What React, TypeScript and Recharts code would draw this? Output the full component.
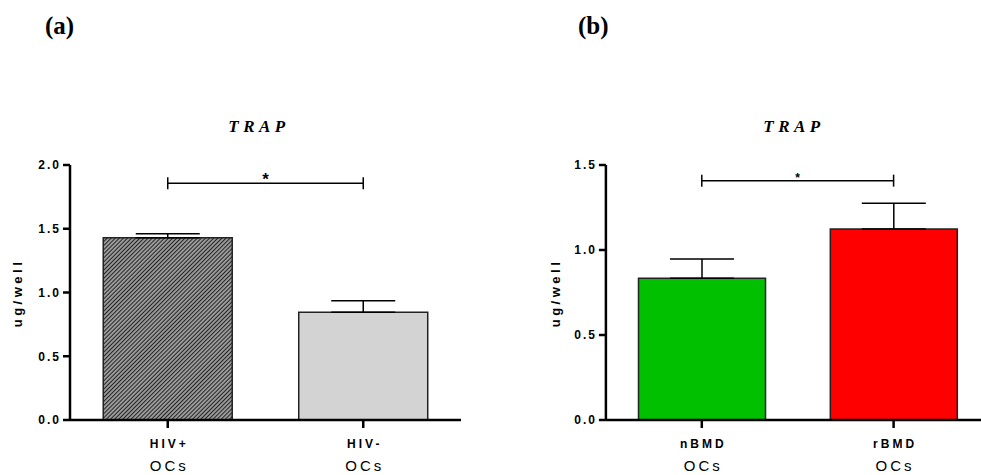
import { BarChart, Bar, XAxis, YAxis, Cell, ErrorBar, ReferenceLine } from "recharts";

// panel (a): HIV status
const leftGroups = ["HIV+", "HIV-"];
const leftMeans = [1.43, 0.845];
const leftSem = [0.03, 0.09];
const leftFills = ["url(#hatch)", "#d3d3d3"];
const leftTicks = [0, 0.5, 1, 1.5, 2];
const leftSigY = 1.857;

// panel (b): bone mineral density
const rightGroups = ["nBMD", "rBMD"];
const rightMeans = [0.834, 1.124];
const rightSem = [0.113, 0.151];
const rightFills = ["#00c000", "#ff0000"];
const rightTicks = [0, 0.5, 1, 1.5];
const rightSigY = 1.408;

const SANS = "'Liberation Sans', Arial, sans-serif";
const SERIF = "'Liberation Serif', 'Times New Roman', serif";

const GroupTick = (props: any) => {
   const { x, y, payload } = props;
   return (
      <g>
         <text x={x + 1.5} y={y + 18} textAnchor="middle" fontSize={12} fontWeight="bold" letterSpacing={3} fill="#000" fontFamily={SANS}>
            {payload.value}
         </text>
         <text x={x + 1.5} y={y + 41} textAnchor="middle" fontSize={15} letterSpacing={3} fill="#000" fontFamily={SANS}>
            OCs
         </text>
      </g>
   );
};

const makeBracket = (starSize: number) => (props: any) => {
   const { x1, y1, x2, y2 } = props;
   return (
      <g>
         <line x1={x1} y1={y1} x2={x2} y2={y2} stroke="#000" strokeWidth={1.5} />
         <line x1={x1} y1={y1 - 6} x2={x1} y2={y1 + 6} stroke="#000" strokeWidth={1.5} />
         <line x1={x2} y1={y2 - 6} x2={x2} y2={y2 + 6} stroke="#000" strokeWidth={1.5} />
         <text x={(x1 + x2) / 2} y={y1 + starSize * 0.1} textAnchor="middle" fontSize={starSize} fontWeight="bold" fill="#000" fontFamily={SANS}>
            *
         </text>
      </g>
   );
};

type PanelProps = {
   groups: string[];
   means: number[];
   sem: number[];
   fills: string[];
   ticks: number[];
   sigY: number;
   starSize: number;
   width: number;
   margin: { top: number; right: number; bottom: number; left: number };
};

function Panel({ groups, means, sem, fills, ticks, sigY, starSize, width, margin }: PanelProps) {
   const data = groups.map((g, i) => ({ group: g, mean: means[i], err: [0, sem[i]] }));
   return (
      <BarChart width={width} height={475} data={data} margin={margin} barCategoryGap="17%">
         <defs>
            <pattern id="hatch" patternUnits="userSpaceOnUse" width={2.9} height={2.9} patternTransform="rotate(45)">
               <rect width={2.9} height={2.9} fill="#999" />
               <line x1={0} y1={0} x2={0} y2={2.9} stroke="#000" strokeWidth={1.5} />
            </pattern>
         </defs>
         <XAxis
            dataKey="group"
            height={55}
            tick={<GroupTick />}
            tickSize={8}
            tickMargin={2}
            tickLine={{ stroke: "#000", strokeWidth: 2.5 }}
            axisLine={{ stroke: "#000", strokeWidth: 2.5 }}
            interval={0}
         />
         <YAxis
            width={40}
            domain={[0, ticks[ticks.length - 1]]}
            ticks={ticks}
            tickFormatter={(v: number) => v.toFixed(1)}
            tick={{ fontSize: 12, fontWeight: "bold", fill: "#000", fontFamily: SANS, letterSpacing: 2 }}
            tickSize={7}
            tickMargin={2}
            tickLine={{ stroke: "#000", strokeWidth: 2.5 }}
            axisLine={{ stroke: "#000", strokeWidth: 2.5 }}
         />
         <Bar dataKey="mean" stroke="#222" strokeWidth={1.5} isAnimationActive={false}>
            {data.map((d, i) => (
               <Cell key={d.group} fill={fills[i]} />
            ))}
            <ErrorBar dataKey="err" direction="y" width={32} stroke="#000" strokeWidth={1.5} isAnimationActive={false} />
         </Bar>
         <ReferenceLine
            segment={[
               { x: groups[0], y: sigY },
               { x: groups[1], y: sigY },
            ]}
            shape={makeBracket(starSize)}
         />
      </BarChart>
   );
}

const textBase = { position: "absolute" as const, color: "#000", whiteSpace: "nowrap" as const };

export default function App() {
   return (
      <div style={{ position: "fixed", left: 0, top: 0, width: 981, height: 475, overflow: "hidden", background: "#fff", fontFamily: SANS }}>
         {/* panel labels */}
         <div style={{ ...textBase, left: 45, top: 11, fontFamily: SERIF, fontWeight: "bold", fontSize: 25, lineHeight: "30px" }}>(a)</div>
         <div style={{ ...textBase, left: 578, top: 11, fontFamily: SERIF, fontWeight: "bold", fontSize: 25, lineHeight: "30px" }}>(b)</div>

         {/* titles */}
         <div style={{ ...textBase, left: 259, top: 117, transform: "translateX(-50%)", fontFamily: SERIF, fontWeight: "bold", fontStyle: "italic", fontSize: 17, letterSpacing: 4.5, lineHeight: "20px" }}>TRAP</div>
         <div style={{ ...textBase, left: 794, top: 117, transform: "translateX(-50%)", fontFamily: SERIF, fontWeight: "bold", fontStyle: "italic", fontSize: 17, letterSpacing: 4.5, lineHeight: "20px" }}>TRAP</div>

         {/* y axis titles */}
         <div style={{ ...textBase, left: 17, top: 293, transform: "translate(-50%, -50%) rotate(-90deg)", fontWeight: "bold", fontSize: 13, letterSpacing: 3.5 }}>ug/well</div>
         <div style={{ ...textBase, left: 555, top: 293, transform: "translate(-50%, -50%) rotate(-90deg)", fontWeight: "bold", fontSize: 13, letterSpacing: 3.5 }}>ug/well</div>

         <div style={{ position: "absolute", left: 0, top: 0 }}>
            <Panel
               groups={leftGroups}
               means={leftMeans}
               sem={leftSem}
               fills={leftFills}
               ticks={leftTicks}
               sigY={leftSigY}
               starSize={17}
               width={500}
               margin={{ top: 165, right: 39, bottom: 0, left: 30 }}
            />
         </div>
         <div style={{ position: "absolute", left: 520, top: 0 }}>
            <Panel
               groups={rightGroups}
               means={rightMeans}
               sem={rightSem}
               fills={rightFills}
               ticks={rightTicks}
               sigY={rightSigY}
               starSize={12}
               width={480}
               margin={{ top: 165, right: 10.5, bottom: 0, left: 45.9 }}
            />
         </div>
      </div>
   );
}
